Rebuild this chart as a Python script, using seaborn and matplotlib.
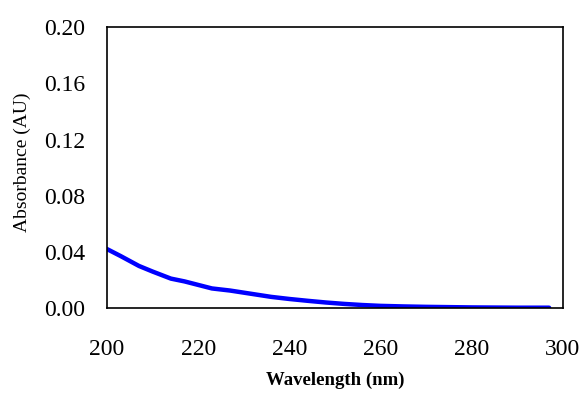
import matplotlib
matplotlib.use("Agg")
import matplotlib.pyplot as plt
import seaborn as sns
import pandas as pd

wavelength = [200, 203, 207, 210, 214, 217, 220, 223, 227, 231, 236, 240, 244, 248, 252, 256, 260, 265, 270, 275, 280, 285, 290, 297]
absorbance = [0.042, 0.037, 0.030, 0.026, 0.021, 0.019, 0.0165, 0.014, 0.0125, 0.0105, 0.008, 0.0065, 0.0052, 0.004, 0.003, 0.0022, 0.0016, 0.0012, 0.0009, 0.0007, 0.0005, 0.0004, 0.0003, 0.0003]
xticks = [200, 220, 240, 260, 280, 300]
yticks = [0.00, 0.04, 0.08, 0.12, 0.16, 0.20]

df = pd.DataFrame({"Wavelength (nm)": wavelength, "Absorbance (AU)": absorbance})

sns.set_style("white")
plt.rcParams['font.family'] = ['Liberation Serif', 'DejaVu Serif']
plt.rcParams['text.color'] = 'black'
plt.rcParams['axes.labelcolor'] = 'black'
plt.rcParams['xtick.color'] = 'black'
plt.rcParams['ytick.color'] = 'black'

fig = plt.figure(figsize=(5.82, 3.93), dpi=100)
ax = fig.add_axes([0.184, 0.216, 0.783, 0.715])
sns.lineplot(data=df, x="Wavelength (nm)", y="Absorbance (AU)", ax=ax, color="#0000ff", linewidth=3.2)
ax.set_xlim(200, 300)
ax.set_ylim(0, 0.20)
ax.set_xticks(xticks)
ax.set_yticks(yticks)
ax.set_yticklabels([f"{v:.2f}" for v in yticks])
ax.tick_params(direction="in", length=5, width=1, colors="black", labelsize=17)
ax.tick_params(axis="y", pad=16)
ax.tick_params(axis="x", pad=22)
for s in ax.spines.values():
    s.set_color("black")
    s.set_linewidth(1.2)
ax.set_xlabel("Wavelength (nm)", fontsize=13.5, fontweight="bold", color="black")
ax.xaxis.set_label_coords(0.5, -0.228)
ax.xaxis.label.set_va("top")
ax.set_ylabel("Absorbance (AU)", fontsize=14, color="black")
ax.yaxis.set_label_coords(-0.168, 0.52)
fig.savefig("out.png", dpi=100)
